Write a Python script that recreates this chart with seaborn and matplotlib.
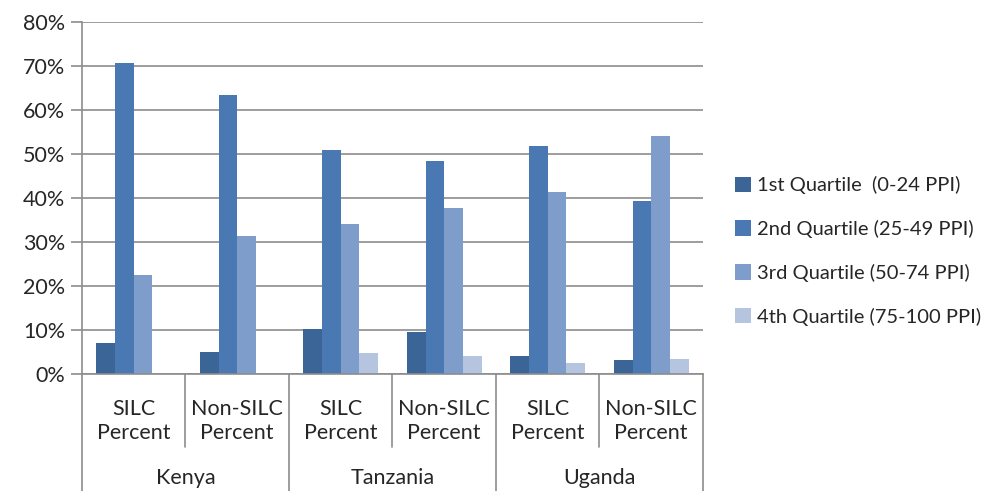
import numpy as np
import pandas as pd
import matplotlib
matplotlib.use("Agg")
import matplotlib.pyplot as plt
import seaborn as sns
from matplotlib.ticker import PercentFormatter

# === data ===
countries = ["Kenya", "Tanzania", "Uganda"]
groups = ["SILC\nPercent", "Non-SILC\nPercent"]
quartiles = ["1st Quartile  (0-24 PPI)", "2nd Quartile (25-49 PPI)",
             "3rd Quartile (50-74 PPI)", "4th Quartile (75-100 PPI)"]
q1 = [7.1, 5.1, 10.3, 9.5, 4.2, 3.1]
q2 = [70.7, 63.4, 51.0, 48.5, 51.8, 39.3]
q3 = [22.4, 31.3, 34.1, 37.8, 41.3, 54.2]
q4 = [0.0, 0.0, 4.7, 4.2, 2.6, 3.4]
colors = ["#3B6497", "#4A78B2", "#7F9DCA", "#B5C5E0"]

# === build long table ===
cats = [f"{c}|{g}" for c in countries for g in groups]
rows = []
for qname, vals in zip(quartiles, [q1, q2, q3, q4]):
    for cat, v in zip(cats, vals):
        rows.append({"cat": cat, "quartile": qname, "value": v})
df = pd.DataFrame(rows)

sns.set_style("white")
plt.rcParams["font.family"] = ["Lato", "DejaVu Sans"]

fig = plt.figure(figsize=(10.03, 4.91), dpi=100)
ax = fig.add_axes([82 / 1003, 1 - 374 / 491, (703 - 82) / 1003, (374 - 22) / 491])

sns.barplot(data=df, x="cat", y="value", hue="quartile", order=cats,
            hue_order=quartiles, palette=colors, width=0.72, ax=ax,
            saturation=1, errorbar=None, linewidth=0)

ax.set_ylim(0, 80)
ax.set_xlim(-0.5, len(cats) - 0.5)
ax.set_yticks(np.arange(0, 81, 10))
ax.yaxis.set_major_formatter(PercentFormatter(decimals=0))
ax.yaxis.grid(True, color="#8C8C8C", linewidth=1.2)
ax.set_axisbelow(True)
ax.tick_params(axis="y", length=8, width=1.2, color="#8C8C8C", labelsize=15.5, pad=4, left=True)
ax.set_xticks([])
ax.set_xlabel("")
ax.set_ylabel("")
for s in ["top", "right"]:
    ax.spines[s].set_visible(False)
ax.spines["left"].set_color("#8C8C8C")
ax.spines["left"].set_linewidth(1.2)
ax.spines["bottom"].set_color("#8C8C8C")
ax.spines["bottom"].set_linewidth(1.2)

# hierarchical category axis
trans = ax.get_xaxis_transform()
sub_y = -(447 - 374) / 352
bot_y = -(491 - 374) / 352
for i, cat in enumerate(cats):
    c, g = cat.split("|")
    ax.text(i, -(421 - 374) / 352, g, transform=trans, ha="center", va="center",
            fontsize=15.5, linespacing=1.3)
for i in range(1, len(cats)):
    low = bot_y if i % 2 == 0 else sub_y
    ax.plot([i - 0.5, i - 0.5], [0, low], transform=trans, color="#8C8C8C",
            linewidth=1.2, clip_on=False)
for x in [-0.5, len(cats) - 0.5]:
    ax.plot([x, x], [0, bot_y], transform=trans, color="#8C8C8C",
            linewidth=1.2, clip_on=False)
for j, c in enumerate(countries):
    ax.text(2 * j + 0.5, -(478 - 374) / 352, c, transform=trans, ha="center",
            va="center", fontsize=15.5)

leg = ax.legend(loc="center left", bbox_to_anchor=(1.022, (374 - 251) / 352), frameon=False,
                fontsize=14.5, handlelength=0.8, handleheight=0.8, handletextpad=0.3,
                labelspacing=1.28)

fig.savefig("out.png", dpi=100)
